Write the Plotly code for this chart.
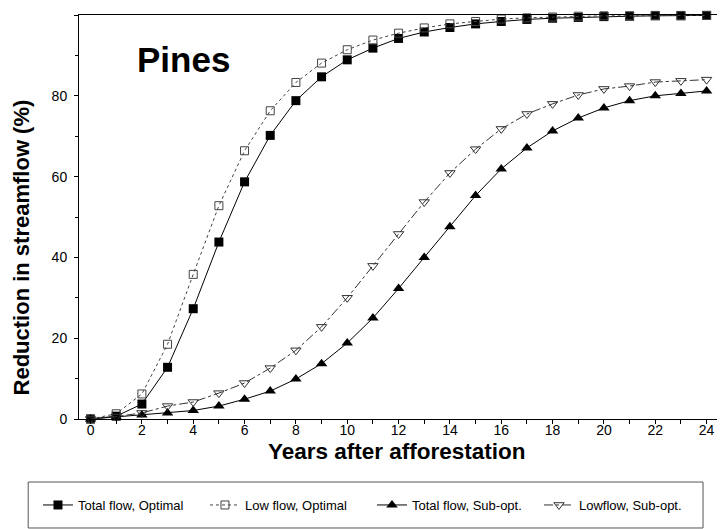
import plotly.graph_objects as go

years = list(range(0, 25))
total_opt = [0, 0.7, 3.7, 12.8, 27.3, 43.8, 58.7, 70.2, 78.8, 84.7, 88.9, 91.8, 94.2, 95.8, 96.9, 97.8, 98.4, 98.9, 99.2, 99.4, 99.6, 99.7, 99.8, 99.8, 99.9]
low_opt = [0, 1.3, 6.2, 18.5, 35.8, 52.8, 66.4, 76.3, 83.3, 88.1, 91.4, 93.8, 95.5, 96.8, 97.8, 98.4, 99.0, 99.3, 99.5, 99.7, 99.8, 99.8, 99.9, 99.9, 99.9]
total_sub = [0, 0.5, 1.0, 1.5, 2.1, 3.2, 4.9, 6.9, 9.9, 13.7, 18.8, 25.0, 32.3, 40.0, 47.6, 55.3, 61.9, 67.1, 71.3, 74.5, 77.0, 78.8, 80.0, 80.6, 81.2]
low_sub = [0, 0.6, 1.5, 3.2, 4.2, 6.4, 8.9, 12.6, 17.0, 22.8, 30.0, 37.9, 45.8, 53.7, 60.9, 66.8, 71.8, 75.5, 78.0, 80.2, 81.7, 82.4, 83.4, 83.7, 84.0]

x_ticks = list(range(0, 25, 2))
y_ticks = [0, 20, 40, 60, 80, 100]

FONT = "Liberation Sans, Arial"

fig = go.Figure()
fig.add_trace(go.Scatter(x=years, y=total_opt, name="Total flow, Optimal", mode="lines+markers",
                         line=dict(color="black", width=1),
                         marker=dict(symbol="square", size=9, color="black"), cliponaxis=False))
fig.add_trace(go.Scatter(x=years, y=low_opt, name="Low flow, Optimal", mode="lines+markers",
                         line=dict(color="#444", width=1, dash="dot"),
                         marker=dict(symbol="square-open", size=8, color="#444", line=dict(width=1)), cliponaxis=False))
fig.add_trace(go.Scatter(x=years, y=total_sub, name="Total flow, Sub-opt.", mode="lines+markers",
                         line=dict(color="black", width=1),
                         marker=dict(symbol="triangle-up", size=10, color="black"), cliponaxis=False))
fig.add_trace(go.Scatter(x=years, y=low_sub, name="Lowflow, Sub-opt.", mode="lines+markers",
                         line=dict(color="#333", width=1, dash="dashdot"),
                         marker=dict(symbol="triangle-down-open", size=9, color="#333", line=dict(width=1)), cliponaxis=False))

# "Pines" label
fig.add_annotation(text="<b>Pines</b>", x=0.087, y=0.889, xref="paper", yref="paper",
                   xanchor="left", yanchor="middle", showarrow=False,
                   font=dict(size=35, color="black", family=FONT))

# y-axis title
fig.add_annotation(text="<b>Reduction in streamflow (%)</b>", x=-0.089, y=0.424, xref="paper", yref="paper",
                   xanchor="center", yanchor="middle", showarrow=False, textangle=-90,
                   font=dict(size=22, color="black", family=FONT))

# x-axis title
fig.add_annotation(text="<b>Years after afforestation</b>", x=0.494, y=-0.081, xref="paper", yref="paper",
                   xanchor="center", yanchor="middle", showarrow=False,
                   font=dict(size=22.5, color="black", family=FONT))

# legend frame
fig.add_shape(type="rect", xref="paper", yref="paper", x0=-0.079, x1=0.9705, y0=-0.2698, y1=-0.156,
              line=dict(color="#555", width=1), fillcolor="rgba(0,0,0,0)")

fig.update_layout(
    width=717, height=521,
    margin=dict(l=71, r=3, t=7, b=110, autoexpand=False),
    plot_bgcolor="white", paper_bgcolor="white",
    font=dict(family=FONT, color="black", size=14),
    xaxis=dict(range=[-0.45, 24.6], tickvals=x_ticks, ticks="outside", ticklen=4, tickcolor="black",
               showline=True, linecolor="black", linewidth=1, mirror=True, showgrid=False, zeroline=False,
               minor=dict(dtick=1, ticks="outside", ticklen=4, tickcolor="black"),
               tickfont=dict(size=14), automargin=False, ticklabelstandoff=-6),
    yaxis=dict(range=[0, 100], tickvals=y_ticks, ticks="outside", ticklen=4, tickcolor="black",
               showline=True, linecolor="black", linewidth=1, mirror=True, showgrid=False, zeroline=False,
               minor=dict(dtick=10, ticks="outside", ticklen=3, tickcolor="black"),
               tickfont=dict(size=14), automargin=False, ticklabelstandoff=4),
    legend=dict(orientation="h", x=-0.0638, y=-0.2129, xanchor="left", yanchor="middle",
                borderwidth=0, bgcolor="rgba(0,0,0,0)",
                font=dict(size=13), itemwidth=30, entrywidth=122, entrywidthmode="pixels"),
    showlegend=True,
)

fig.write_html("out.html")
